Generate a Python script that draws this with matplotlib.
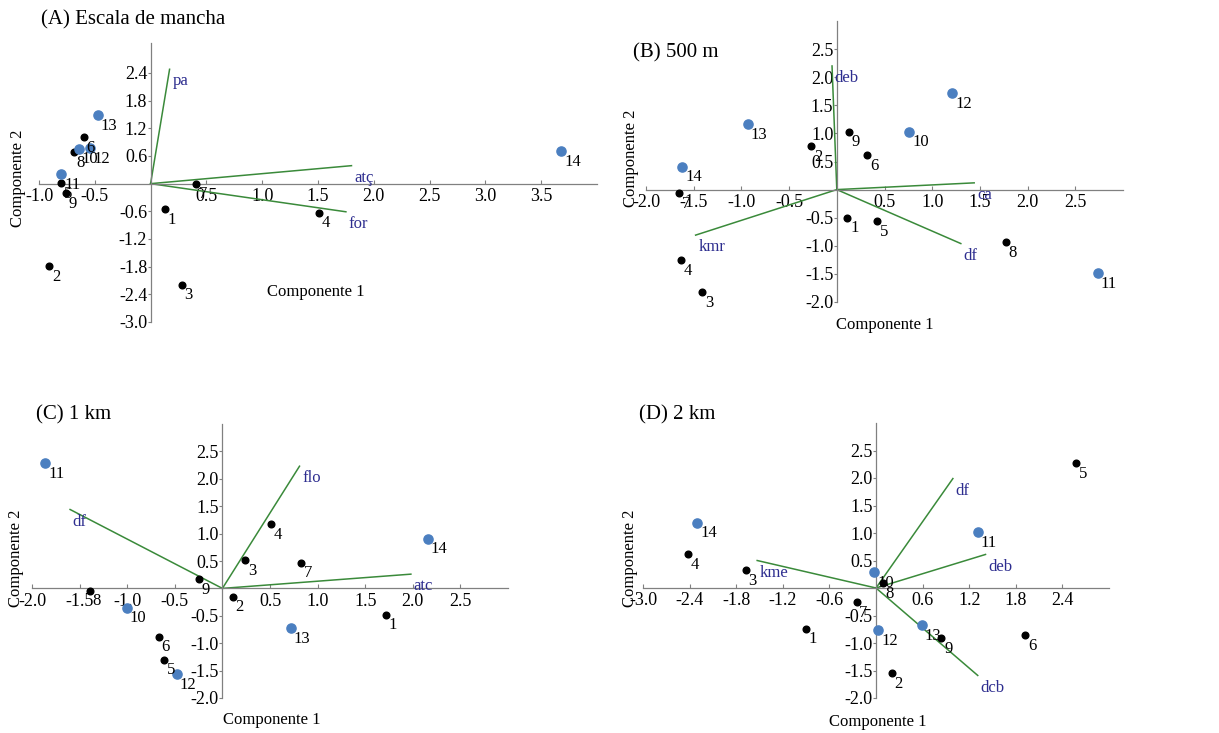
import matplotlib.pyplot as plt

plt.rcParams['font.family'] = ['Liberation Serif', 'DejaVu Serif']

W, H = 1219, 733

# sites 1..14 (10-14 drawn in blue)
sites = [str(i) for i in range(1, 15)]
blue_sites = ['10', '11', '12', '13', '14']

# (A) Escala de mancha
a_x = [0.13, -0.91, 0.28, 1.51, -0.80, -0.60, 0.41, -0.69, -0.76, -0.64, -0.80, -0.54, -0.47, 3.68]
a_y = [-0.55, -1.79, -2.19, -0.63, 0.01, 1.01, 0.00, 0.68, -0.20, 0.76, 0.21, 0.77, 1.48, 0.71]
a_vars = ['pa', 'atç', 'for']
a_vx = [0.17, 1.80, 1.75]
a_vy = [2.48, 0.39, -0.61]

# (B) 500 m
b_x = [0.11, -0.27, -1.41, -1.63, 0.42, 0.32, -1.65, 1.77, 0.13, 0.76, 2.74, 1.21, -0.93, -1.62]
b_y = [-0.50, 0.78, -1.83, -1.26, -0.56, 0.61, -0.06, -0.93, 1.03, 1.03, -1.48, 1.72, 1.17, 0.41]
b_vars = ['deb', 'ca', 'kmr', 'df']
b_vx = [-0.05, 1.44, -1.48, 1.30]
b_vy = [2.20, 0.12, -0.81, -0.96]

# (C) 1 km
c_x = [1.72, 0.11, 0.24, 0.51, -0.61, -0.67, 0.83, -1.39, -0.25, -1.00, -1.86, -0.48, 0.72, 2.16]
c_y = [-0.48, -0.15, 0.52, 1.18, -1.30, -0.88, 0.47, -0.04, 0.17, -0.35, 2.28, -1.57, -0.72, 0.91]
c_vars = ['flo', 'df', 'atc']
c_vx = [0.81, -1.60, 1.98]
c_vy = [2.23, 1.44, 0.26]

# (D) 2 km
d_x = [-0.90, 0.20, -1.68, -2.42, 2.58, 1.92, -0.25, 0.09, 0.84, -0.02, 1.31, 0.03, 0.59, -2.30]
d_y = [-0.74, -1.55, 0.33, 0.62, 2.27, -0.85, -0.25, 0.09, -0.91, 0.29, 1.02, -0.76, -0.67, 1.19]
d_vars = ['df', 'deb', 'kme', 'dcb']
d_vx = [0.99, 1.41, -1.53, 1.31]
d_vy = [1.99, 0.61, 0.50, -1.59]

BLUE = '#4b7fc0'
GREEN = '#3a8a3a'
VLAB = '#2d2d8f'
AXC = '#808080'


def rect(x0, y0, x1, y1):
    return [x0 / W, 1 - y1 / H, (x1 - x0) / W, (y1 - y0) / H]


def ftext(x, y, s, **kw):
    fig.text(x / W, 1 - y / H, s, **kw)


def panel(ax, xs, ys, vnames, vx, vy, xlim, ylim, xticks, yticks):
    for name, ex, ey in zip(vnames, vx, vy):
        ax.plot([0, ex], [0, ey], color=GREEN, lw=1.1, zorder=2)
        ax.annotate(name, (ex, ey), xytext=(2, -3), textcoords='offset points',
                    ha='left', va='top', color=VLAB, fontsize=12)
    for s, x, y in zip(sites, xs, ys):
        if s in blue_sites:
            ax.plot(x, y, 'o', color=BLUE, ms=6.6, zorder=3)
        else:
            ax.plot(x, y, 'o', color='black', ms=4.8, zorder=3)
        ax.annotate(s, (x, y), xytext=(2, -2), textcoords='offset points',
                    ha='left', va='top', fontsize=12, zorder=4)
    ax.set_xlim(*xlim)
    ax.set_ylim(*ylim)
    for side in ['top', 'right']:
        ax.spines[side].set_visible(False)
    for side in ['left', 'bottom']:
        ax.spines[side].set_position(('data', 0))
        ax.spines[side].set_color(AXC)
        ax.spines[side].set_linewidth(0.9)
    ax.set_xticks(xticks)
    ax.set_xticklabels([f'{t:.1f}' for t in xticks])
    ax.set_yticks(yticks)
    ax.set_yticklabels([f'{t:.1f}' for t in yticks])
    ax.tick_params(axis='x', direction='in', length=3, pad=3, color=AXC, labelsize=13)
    ax.tick_params(axis='y', direction='out', length=2, pad=0.5, color=AXC, labelsize=13)
    ax.patch.set_alpha(0)


fig = plt.figure(figsize=(W / 100, H / 100), dpi=100)

half = [-2.0, -1.5, -1.0, -0.5, 0.5, 1.0, 1.5, 2.0, 2.5]

ax_a = fig.add_axes(rect(39, 43, 597, 322))
panel(ax_a, a_x, a_y, a_vars, a_vx, a_vy, (-1.0, 4.0), (-3.0, 3.05),
      [-1.0, -0.5, 0.5, 1.0, 1.5, 2.0, 2.5, 3.0, 3.5],
      [-3.0, -2.4, -1.8, -1.2, -0.6, 0.6, 1.2, 1.8, 2.4])

ax_b = fig.add_axes(rect(646, 21, 1123, 302))
panel(ax_b, b_x, b_y, b_vars, b_vx, b_vy, (-2.0, 3.0), (-2.0, 3.0), half, half)

ax_c = fig.add_axes(rect(32, 424, 508, 698))
panel(ax_c, c_x, c_y, c_vars, c_vx, c_vy, (-2.0, 3.0), (-2.0, 3.0), half, half)

ax_d = fig.add_axes(rect(643, 423, 1109, 698))
panel(ax_d, d_x, d_y, d_vars, d_vx, d_vy, (-3.0, 3.0), (-2.0, 3.0),
      [-3.0, -2.4, -1.8, -1.2, -0.6, 0.6, 1.2, 1.8, 2.4], half)

# titles
ftext(41, 20, '(A) Escala de mancha', fontsize=15, va='center', ha='left')
ftext(633, 53, '(B) 500 m', fontsize=15, va='center', ha='left')
ftext(36, 415, '(C) 1 km', fontsize=15, va='center', ha='left')
ftext(639, 415, '(D) 2 km', fontsize=15, va='center', ha='left')

# axis labels
for x, y in [(316, 292), (885, 325), (272, 720), (878, 722)]:
    ftext(x, y, 'Componente 1', fontsize=12, ha='center', va='center')
for x, y in [(18, 178), (631, 158), (16, 558), (630, 558)]:
    ftext(x, y, 'Componente 2', fontsize=12, ha='center', va='center', rotation=90)

fig.savefig('out.png', dpi=100)
